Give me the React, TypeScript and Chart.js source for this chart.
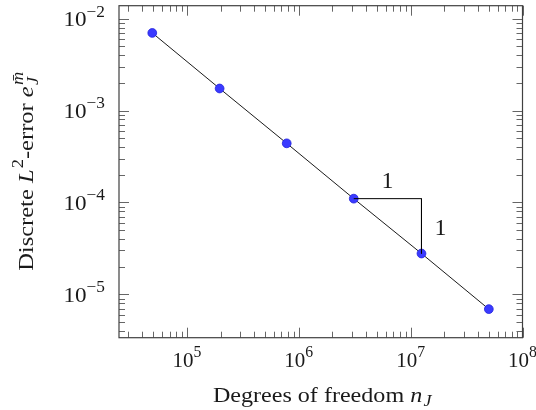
import React, { useEffect, useRef } from "react";
import { Chart, registerables } from "chart.js";

Chart.register(...registerables);

// Degrees of freedom per refinement level and the matching discrete L2 errors
const dofs = [4.9e4, 1.96e5, 7.8e5, 3.1e6, 1.25e7, 5.0e7];
const errors = [7.0e-3, 1.74e-3, 4.4e-4, 1.1e-4, 2.78e-5, 6.9e-6];

// Decade exponents that carry a tick label
const xTickExponents = [5, 6, 7, 8];
const yTickExponents = [-2, -3, -4, -5];

// Slope triangle legs: built between refinement levels 4 and 5
const slopeFrom = 3;
const slopeTo = 4;
const slopeLabels = ["1", "1"];

const xRange = [2.47e4, 1e8];
const yRange = [3.37e-6, 1.386e-2];

const FONT = '"Liberation Serif", "DejaVu Serif", serif';
const MINUS = "\u2212";

type Seg = {
  t?: string;
  italic?: boolean;
  pos?: "base" | "sup" | "sub";
  sup?: Seg;
  sub?: Seg;
};

function font(size: number, italic?: boolean) {
  return `${italic ? "italic " : ""}${size}px ${FONT}`;
}

const SCRIPT = 0.75;

function segWidth(ctx: CanvasRenderingContext2D, s: Seg, size: number): number {
  if (s.sup || s.sub) {
    const a = s.sup ? segWidth(ctx, { ...s.sup, pos: "sup" }, size) : 0;
    const b = s.sub ? segWidth(ctx, { ...s.sub, pos: "sub" }, size) : 0;
    return Math.max(a, b);
  }
  const sz = s.pos && s.pos !== "base" ? size * SCRIPT : size;
  ctx.font = font(sz, s.italic);
  return ctx.measureText(s.t || "").width + (s.italic ? size * 0.05 : 0);
}

function drawSeg(ctx: CanvasRenderingContext2D, s: Seg, x: number, y: number, size: number) {
  if (s.sup || s.sub) {
    if (s.sup) drawSeg(ctx, { ...s.sup, pos: "sup" }, x, y, size);
    if (s.sub) drawSeg(ctx, { ...s.sub, pos: "sub" }, x, y, size);
    return;
  }
  let sz = size;
  let dy = 0;
  if (s.pos === "sup") {
    sz = size * SCRIPT;
    dy = -size * 0.47;
  } else if (s.pos === "sub") {
    sz = size * SCRIPT;
    dy = size * 0.22;
  }
  ctx.font = font(sz, s.italic);
  ctx.fillText(s.t || "", x, y + dy);
}

// Draws a run of segments; hs stretches the run along its baseline
function drawRich(
  ctx: CanvasRenderingContext2D,
  segs: Seg[],
  x: number,
  y: number,
  size: number,
  align: "left" | "center" | "right",
  hs = 1
) {
  const widths = segs.map((s) => segWidth(ctx, s, size));
  const total = widths.reduce((a, b) => a + b, 0) * hs;
  const startX = align === "left" ? x : align === "center" ? x - total / 2 : x - total;
  ctx.save();
  ctx.translate(startX, y);
  ctx.scale(hs, 1);
  ctx.textAlign = "left";
  ctx.textBaseline = "alphabetic";
  let cx = 0;
  segs.forEach((s, i) => {
    drawSeg(ctx, s, cx, 0, size);
    cx += widths[i];
  });
  ctx.restore();
}

const powerLabel = (e: number): Seg[] => [
  { t: "10" },
  { t: e < 0 ? MINUS + String(-e) : String(e), pos: "sup" },
];

const xTitle: Seg[] = [
  { t: "Degrees of freedom " },
  { t: "n", italic: true },
  { t: "J", italic: true, pos: "sub" },
];

const yTitle: Seg[] = [
  { t: "Discrete " },
  { t: "L", italic: true },
  { t: "2", pos: "sup" },
  { t: "-error " },
  { t: "e", italic: true },
  { sup: { t: "m\u0304", italic: true }, sub: { t: "J", italic: true } },
];

const axesPlugin = {
  id: "pgfAxes",
  beforeDatasetsDraw(chart: any) {
    const ctx: CanvasRenderingContext2D = chart.ctx;
    const { left, right, top, bottom } = chart.chartArea;
    const xs = chart.scales.x;
    const ys = chart.scales.y;
    const major = 10;
    const minor = 6;
    ctx.save();
    ctx.lineWidth = 1;
    ctx.strokeStyle = "#666666";
    ctx.beginPath();
    // x ticks, bottom and top
    for (let e = 4; e <= 8; e++) {
      for (let m = 1; m <= 9; m++) {
        const v = m * Math.pow(10, e);
        if (v < xRange[0] || v > xRange[1]) continue;
        const px = Math.round(xs.getPixelForValue(v)) + 0.5;
        const len = m === 1 ? major : minor;
        ctx.moveTo(px, bottom);
        ctx.lineTo(px, bottom - len);
        ctx.moveTo(px, top);
        ctx.lineTo(px, top + len);
      }
    }
    // y ticks, left and right
    for (let e = -6; e <= -2; e++) {
      for (let m = 1; m <= 9; m++) {
        const v = m * Math.pow(10, e);
        if (v < yRange[0] || v > yRange[1]) continue;
        const py = Math.round(ys.getPixelForValue(v)) + 0.5;
        const len = m === 1 ? major : minor;
        ctx.moveTo(left, py);
        ctx.lineTo(left + len, py);
        ctx.moveTo(right, py);
        ctx.lineTo(right - len, py);
      }
    }
    ctx.stroke();
    // frame
    ctx.strokeStyle = "#404040";
    ctx.lineWidth = 1.2;
    ctx.strokeRect(left, top, right - left, bottom - top);
    ctx.restore();
  },
  afterDraw(chart: any) {
    const ctx: CanvasRenderingContext2D = chart.ctx;
    const { left, right, top, bottom } = chart.chartArea;
    const xs = chart.scales.x;
    const ys = chart.scales.y;
    const tickSize = 21;
    const titleSize = 21.5;
    ctx.save();
    ctx.fillStyle = "#1a1a1a";
    xTickExponents.forEach((e) => {
      const px = xs.getPixelForValue(Math.pow(10, e));
      drawRich(ctx, powerLabel(e), px, bottom + 29, tickSize, "center");
    });
    yTickExponents.forEach((e) => {
      const py = ys.getPixelForValue(Math.pow(10, e));
      drawRich(ctx, powerLabel(e), left - 14, py + 7.7, tickSize, "right", 1.1);
    });
    drawRich(ctx, xTitle, (left + right) / 2 + 2, 401.5, titleSize, "center", 1.12);
    ctx.save();
    ctx.translate(33, (top + bottom) / 2 - 1);
    ctx.rotate(-Math.PI / 2);
    drawRich(ctx, yTitle, 0, 0, titleSize, "center", 1.14);
    ctx.restore();

    // slope triangle labels
    const x1 = xs.getPixelForValue(dofs[slopeFrom]);
    const x2 = xs.getPixelForValue(dofs[slopeTo]);
    const y1 = ys.getPixelForValue(errors[slopeFrom]);
    const y2 = ys.getPixelForValue(errors[slopeTo]);
    ctx.font = font(24);
    ctx.textAlign = "center";
    ctx.textBaseline = "alphabetic";
    ctx.fillText(slopeLabels[0], (x1 + x2) / 2, y1 - 11);
    ctx.textAlign = "left";
    ctx.fillText(slopeLabels[1], x2 + 13, (y1 + y2) / 2 + 9);
    ctx.restore();
  },
};

export default function App() {
  const ref = useRef<HTMLCanvasElement | null>(null);
  useEffect(() => {
    if (!ref.current) return;
    const points = dofs.map((x, i) => ({ x, y: errors[i] }));
    const triangle = [
      { x: dofs[slopeFrom], y: errors[slopeFrom] },
      { x: dofs[slopeTo], y: errors[slopeFrom] },
      { x: dofs[slopeTo], y: errors[slopeTo] },
    ];
    const chart = new Chart(ref.current, {
      type: "scatter",
      data: {
        datasets: [
          {
            data: triangle,
            showLine: true,
            borderColor: "#000000",
            borderWidth: 1,
            pointRadius: 0,
            pointHoverRadius: 0,
          },
          {
            data: points,
            showLine: true,
            borderColor: "#000000",
            borderWidth: 0.9,
            pointRadius: 4.4,
            pointBackgroundColor: "#3a3aff",
            pointBorderColor: "#2222dd",
            pointBorderWidth: 0.8,
          },
        ],
      },
      options: {
        responsive: false,
        animation: false,
        devicePixelRatio: 1,
        layout: { padding: { left: 119, right: 13.5, top: 5.7, bottom: 72.3 } },
        plugins: { legend: { display: false }, tooltip: { enabled: false } },
        events: [],
        scales: {
          x: { type: "logarithmic", min: xRange[0], max: xRange[1], display: false },
          y: { type: "logarithmic", min: yRange[0], max: yRange[1], display: false },
        },
      },
      plugins: [axesPlugin],
    });
    return () => chart.destroy();
  }, []);
  return (
    <div style={{ position: "fixed", left: 0, top: 0, width: 536, height: 410, background: "#fff" }}>
      <canvas ref={ref} width={536} height={410} />
    </div>
  );
}
